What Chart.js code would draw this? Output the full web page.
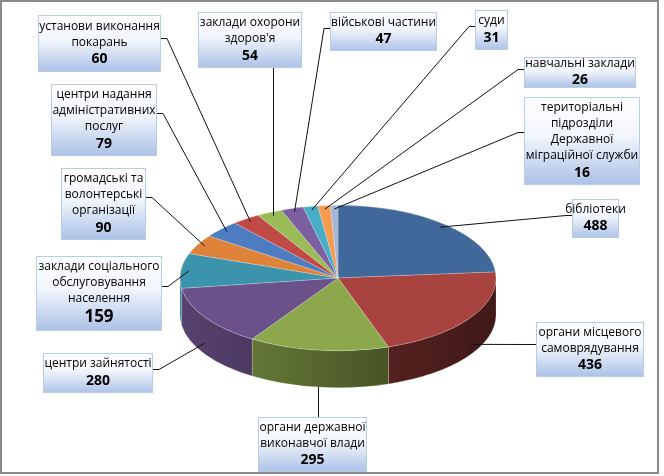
<!DOCTYPE html>
<html>
<head>
<meta charset="utf-8">
<script src="https://cdn.jsdelivr.net/npm/chart.js@4.4.1/dist/chart.umd.min.js"></script>
<style>
  body { margin: 0; background: #fff; }
  canvas { display: block; }
</style>
</head>
<body>
<canvas id="myChart" width="664" height="476"></canvas>
<script>
const categories = [
  "бібліотеки",
  "органи місцевого\nсамоврядування",
  "органи державної\nвиконавчої влади",
  "центри зайнятості",
  "заклади соціального\nобслуговування\nнаселення",
  "громадські та\nволонтерські\nорганізації",
  "центри надання\nадміністративних\nпослуг",
  "установи виконання\nпокарань",
  "заклади охорони\nздоров'я",
  "військові частини",
  "суди",
  "навчальні заклади",
  "територіальні\nпідрозділи\nДержавної\nміграційної служби",
];
const values = [488, 436, 295, 280, 159, 90, 79, 60, 54, 47, 31, 26, 16];
const colors = [
  "#41689a", "#a8433f", "#8da74c", "#6b5189", "#3c93ac", "#e0833a", "#4d7cc0",
  "#c04a46", "#9bbb59", "#7c5fa0", "#4aadc8", "#f59a4e", "#a5b5d8",
];

// label boxes: left, top, width, height, side the leader line leaves from, number size
const boxes = [
  [572, 199, 47, 39, "left", 14],
  [536, 322, 108, 55, "left", 14],
  [258, 417, 109, 55, "top", 14],
  [43, 353, 110, 40, "right", 14],
  [36, 256, 126, 75, "right", 17],
  [61, 168, 85, 72, "right", 14],
  [51, 84, 106, 72, "right", 14],
  [38, 15, 123, 57, "right", 14],
  [198, 12, 104, 56, "bottom", 14],
  [330, 12, 107, 39, "left", 14],
  [475, 10, 33, 40, "left", 14],
  [524, 57, 112, 31, "left", 14],
  [524, 97, 116, 88, "left", 14],
];

const DEPTH = 37;
const SQUASH = 0.46;
const CENTER_Y = 278;
const FONT = '"Open Sans", "Liberation Sans", sans-serif';

function shade(hex, f) {
  const n = parseInt(hex.slice(1), 16);
  const r = Math.round(((n >> 16) & 255) * f);
  const g = Math.round(((n >> 8) & 255) * f);
  const b = Math.round((n & 255) * f);
  return "rgb(" + r + "," + g + "," + b + ")";
}

// squash the pie into an ellipse and draw its side wall first
const tilt = {
  id: "tilt",
  beforeDatasetsDraw(chart) {
    const ctx = chart.ctx;
    const arcs = chart.getDatasetMeta(0).data;
    const { x, y, outerRadius: r } = arcs[0];
    ctx.save();
    ctx.translate(x, CENTER_Y);
    ctx.scale(1, SQUASH);
    ctx.translate(-x, -y);
    const dk = DEPTH / SQUASH;
    arcs.forEach((arc, i) => {
      const s = Math.max(arc.startAngle, 0);
      const e = Math.min(arc.endAngle, Math.PI);
      if (e <= s) return;
      const g = ctx.createLinearGradient(x - r, 0, x + r, 0);
      [[0, 0.82], [0.4, 0.63], [0.7, 0.48], [1, 0.38]].forEach(([p, f]) =>
        g.addColorStop(p, shade(colors[i], f)));
      ctx.beginPath();
      ctx.arc(x, y, r, s, e);
      ctx.arc(x, y + dk, r, e, s, true);
      ctx.closePath();
      ctx.fillStyle = g;
      ctx.fill();
      ctx.strokeStyle = "rgba(255,255,255,0.25)";
      ctx.lineWidth = 1;
      ctx.stroke();
    });
  },
  afterDatasetsDraw(chart) {
    chart.ctx.restore();
  },
};

const callouts = {
  id: "callouts",
  afterDraw(chart) {
    const ctx = chart.ctx;
    const arcs = chart.getDatasetMeta(0).data;
    arcs.forEach((arc, i) => {
      const [bx, by, bw, bh, side, numSize] = boxes[i];
      const mid = (arc.startAngle + arc.endAngle) / 2;
      const c = Math.cos(mid), s = Math.sin(mid);
      const k = s > 0 ? 1 : 0.95;
      const ax = arc.x + k * arc.outerRadius * c;
      let ay = CENTER_Y + k * arc.outerRadius * SQUASH * s;
      if (s > 0) ay += Math.min(DEPTH, 1.3 * DEPTH * s);

      // leader line
      ctx.save();
      ctx.strokeStyle = "#111";
      ctx.lineWidth = 1;
      ctx.beginPath();
      const ly = Math.round(by + bh * 0.4) + 0.5;
      if (side === "left") {
        ctx.moveTo(bx, ly); ctx.lineTo(bx - 6, ly); ctx.lineTo(ax, ay);
      } else if (side === "right") {
        ctx.moveTo(bx + bw, ly); ctx.lineTo(bx + bw + 6, ly); ctx.lineTo(ax, ay);
      } else if (side === "top") {
        const lx = Math.round(ax) + 0.5;
        ctx.moveTo(lx, by); ctx.lineTo(lx, ay);
      } else {
        const lx = Math.round(ax) + 0.5;
        ctx.moveTo(lx, by + bh); ctx.lineTo(lx, ay);
      }
      ctx.stroke();

      // box
      const g = ctx.createLinearGradient(0, by, 0, by + bh);
      g.addColorStop(0, "#ffffff");
      g.addColorStop(0.45, "#f1f5fc");
      g.addColorStop(1, "#abc1e6");
      ctx.fillStyle = g;
      ctx.fillRect(bx, by, bw, bh);
      ctx.strokeStyle = "#b8cce4";
      ctx.strokeRect(bx + 0.5, by + 0.5, bw - 1, bh - 1);

      // text
      const lines = chart.data.labels[i].split("\n");
      const numH = numSize + 4;
      const total = lines.length * 16 + numH;
      let ty = by + (bh - total) / 2;
      const cx = bx + bw / 2;
      ctx.fillStyle = "#000";
      ctx.textAlign = "center";
      ctx.textBaseline = "middle";
      ctx.font = "12px " + FONT;
      lines.forEach((t) => {
        ctx.fillText(t, cx, ty + 8);
        ty += 16;
      });
      ctx.font = "bold " + numSize + "px " + FONT;
      ctx.fillText(String(chart.data.datasets[0].data[i]), cx, ty + numH / 2);
      ctx.restore();
    });

    // chart frame
    ctx.save();
    ctx.strokeStyle = "#8a8a8a";
    ctx.lineWidth = 2;
    ctx.strokeRect(1, 1, 657, 472);
    ctx.restore();
  },
};

const ctx = document.getElementById("myChart");
const myChart = new Chart(ctx, {
  type: "pie",
  data: {
    labels: categories,
    datasets: [
      {
        data: values,
        backgroundColor: colors,
        borderColor: "rgba(255,255,255,0.3)",
        borderWidth: 1,
        radius: 158,
        clip: false,
      },
    ],
  },
  options: {
    responsive: false,
    animation: false,
    events: [],
    layout: { padding: { left: 180, right: 168, top: 0, bottom: 0 } },
    plugins: {
      legend: { display: false },
      tooltip: { enabled: false },
    },
  },
  plugins: [tilt, callouts],
});
</script>
</body>
</html>
